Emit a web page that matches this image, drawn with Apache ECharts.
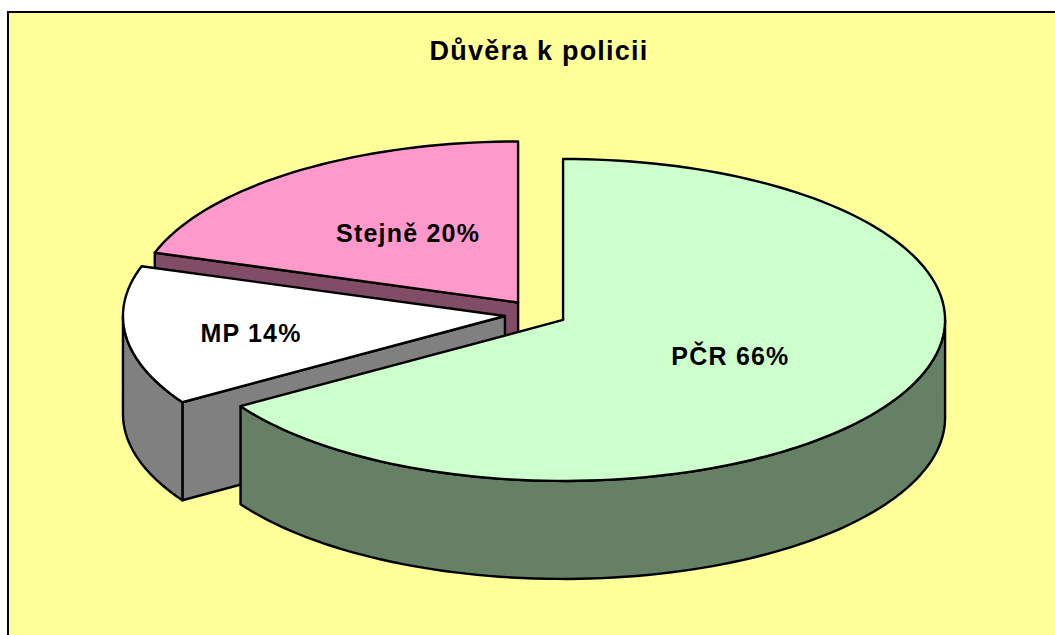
<!DOCTYPE html>
<html>
<head>
<meta charset="utf-8">
<title>Důvěra k policii</title>
<script src="https://cdn.jsdelivr.net/npm/echarts@6/dist/echarts.min.js"></script>
<style>
  html, body { margin: 0; padding: 0; background: #fff; }
  #chart { width: 1055px; height: 635px; }
  #chart text { letter-spacing: 1.2px; }
</style>
</head>
<body>
<div id="chart"></div>
<script>
var chartTitle = 'Důvěra k policii'
var categories = ['PČR', 'MP', 'Stejně']
var shares = [66, 14, 20]

var topColors = ['#CCFFCC', '#FFFFFF', '#FF99CC']
var sideColors = ['#668066', '#808080', '#804C66']
var explode = [0.074, 0.088, 0.09] // pulled out, as part of the radius
var labelReach = [[0.5, 0.49], [0.67, 0.94], [0.49, 0.52]]
var paintOrder = [2, 1, 0] // back slice first

// look of the tilted pie
var cx = 538.3
var cy = 314.2
var rx = 382
var ry = 161
var depth = 98

var total = shares.reduce(function (a, b) { return a + b }, 0)
var starts = []
shares.reduce(function (sum, v, i) {
  starts[i] = sum
  return sum + v
}, 0)

function rad(share) {
  return share / total * Math.PI * 2
}

// angle runs clockwise from 12 o'clock
function rim(ax, ay, angle, drop) {
  return [ax + rx * Math.sin(angle), ay - ry * Math.cos(angle) + (drop || 0)]
}

function arcPoints(ax, ay, from, to, drop) {
  var n = Math.max(2, Math.ceil((to - from) / 0.03))
  var pts = []
  for (var i = 0; i <= n; i++) {
    pts.push(rim(ax, ay, from + (to - from) * i / n, drop))
  }
  return pts
}

function poly(points, fill, z2) {
  return {
    type: 'polygon',
    z2: z2,
    shape: { points: points },
    style: { fill: fill, stroke: '#000', lineWidth: 2.4, lineJoin: 'round' }
  }
}

function drawSlice(params, api) {
  var i = api.value(0)
  var a = rad(starts[i])
  var b = rad(starts[i] + shares[i])
  var mid = (a + b) / 2
  var ax = cx + explode[i] * rx * Math.sin(mid)
  var ay = cy - explode[i] * ry * Math.cos(mid)
  var base = (paintOrder.indexOf(i) + 1) * 10
  var kids = []

  // cut faces, only the ones turned to the viewer
  if (a > Math.PI && a < Math.PI * 2) {
    var p = rim(ax, ay, a)
    kids.push(poly([[ax, ay], p, [p[0], p[1] + depth], [ax, ay + depth]], sideColors[i], base))
  }
  if (b > 0 && b < Math.PI) {
    var q = rim(ax, ay, b)
    kids.push(poly([[ax, ay], q, [q[0], q[1] + depth], [ax, ay + depth]], sideColors[i], base))
  }

  // outer wall, front half only
  var from = Math.max(a, Math.PI / 2)
  var to = Math.min(b, Math.PI * 1.5)
  if (to > from) {
    var wall = arcPoints(ax, ay, from, to).concat(arcPoints(ax, ay, from, to, depth).reverse())
    kids.push(poly(wall, sideColors[i], base + 1))
  }

  kids.push(poly([[ax, ay]].concat(arcPoints(ax, ay, a, b)), topColors[i], base + 2))

  kids.push({
    type: 'text',
    z2: 100,
    style: {
      x: ax + rx * labelReach[i][0] * Math.sin(mid),
      y: ay - ry * labelReach[i][1] * Math.cos(mid) - 1.5,
      text: categories[i] + ' ' + shares[i] + '%',
      fill: '#000',
      font: 'bold 25px "Liberation Sans", Arial, sans-serif',
      align: 'center',
      verticalAlign: 'middle'
    }
  })

  return { type: 'group', children: kids }
}

var myChart = echarts.init(document.getElementById('chart'), null, { renderer: 'svg' })

myChart.setOption({
  animation: false,
  backgroundColor: '#FFFFFF',
  title: {
    text: chartTitle,
    left: 534,
    top: 32,
    textAlign: 'center',
    textStyle: {
      color: '#000',
      fontFamily: '"Liberation Sans", Arial, sans-serif',
      fontWeight: 'bold',
      fontSize: 27
    }
  },
  graphic: [
    {
      type: 'rect',
      z: -1,
      shape: { x: 8, y: 12, width: 1060, height: 640 },
      style: { fill: '#FFFF99', stroke: '#000', lineWidth: 2 }
    }
  ],
  series: [
    {
      type: 'custom',
      coordinateSystem: 'none',
      renderItem: drawSlice,
      data: categories.map(function (name, i) {
        return { name: name, value: [i, shares[i]] }
      }),
      encode: { value: 1 },
      silent: true
    }
  ]
})
</script>
</body>
</html>
